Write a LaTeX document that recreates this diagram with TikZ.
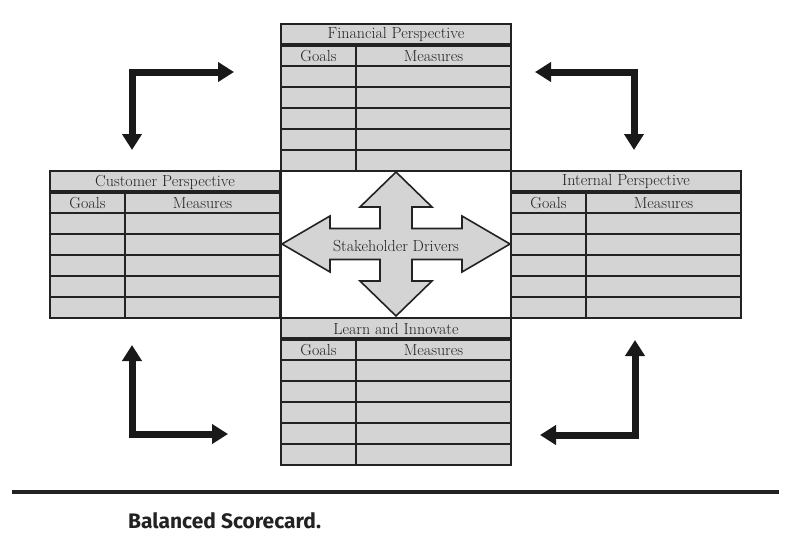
\documentclass[tikz,border=0pt]{standalone}
\usepackage{fontspec}
\newfontfamily\capfont{Fira Sans}
\usetikzlibrary{arrows.meta}

\definecolor{cellgray}{HTML}{D4D4D4}
\definecolor{inkgray}{HTML}{222222}

\begin{document}
\begin{tikzpicture}[x=1pt, y=-1pt,
    rule/.style={draw=inkgray, line width=1.6pt},
    thickrule/.style={draw=inkgray, line width=3.2pt},
    title/.style={inner sep=0pt, text=inkgray, font=\fontsize{16}{18}\selectfont},
    head/.style={inner sep=0pt, text=inkgray, font=\fontsize{16}{18}\selectfont},
    cross/.style={draw=inkgray, fill=cellgray, line width=1.6pt, line join=miter},
    turn/.style={draw=black!90, line width=7pt, line join=miter,
      {Triangle[length=16pt, width=19pt]}-{Triangle[length=16pt, width=19pt]}}]
  \useasboundingbox (0,0) rectangle (794,538);

  % the four tables
  \foreach \x/\y/\name/\title in {281/24/fin/Financial Perspective,
      50/171/cus/Customer Perspective, 511/171/int/Internal Perspective,
      281/318/lrn/Learn and Innovate} {
    \fill[cellgray] (\x,\y) rectangle ++(230,147);
    \foreach \r in {2,...,6}
      \draw[rule] (\x,\y+21*\r) -- ++(230,0);
    \draw[rule] (\x+75,\y+21) -- (\x+75,\y+147);
    \draw[thickrule] (\x,\y+21) -- ++(230,0);
    \draw[rule] (\x,\y) rectangle ++(230,147);
    \node[title] (\name) at (\x+115,\y+11) {\title};
    \node[head] (\name-g) at (\x+37.5,\y+32) {Goals};
    \node[head] (\name-m) at (\x+152.5,\y+32) {Measures};
  }

  % centre box and the cross
  \draw[rule] (281,171) rectangle (511,318);
  \begin{scope}[shift={(396,244)}]
    \draw[cross] (0,-72) -- (36,-37) -- (16,-37) -- (16,-15.5) -- (66,-15.5)
      -- (66,-28) -- (114,0) -- (66,28) -- (66,15.5) -- (16,15.5) -- (16,37)
      -- (36,37) -- (0,72) -- (-36,37) -- (-16,37) -- (-16,15.5)
      -- (-66,15.5) -- (-66,28) -- (-114,0) -- (-66,-28) -- (-66,-15.5)
      -- (-16,-15.5) -- (-16,-37) -- (-36,-37) -- cycle;
  \end{scope}
  \node[head] (drv) at (396,246) {Stakeholder Drivers};

  % corner arrows
  \coordinate (tl-a) at (234,72);  \coordinate (tl-c) at (132,72);  \coordinate (tl-b) at (132,150);
  \coordinate (tr-a) at (535,72);  \coordinate (tr-c) at (634,72);  \coordinate (tr-b) at (634,150);
  \coordinate (bl-a) at (132,345); \coordinate (bl-c) at (132,434); \coordinate (bl-b) at (228,434);
  \coordinate (br-a) at (635,340); \coordinate (br-c) at (635,435); \coordinate (br-b) at (540,435);

  \draw[turn] (tl-a) -- (tl-c) -- (tl-b);
  \draw[turn] (tr-a) -- (tr-c) -- (tr-b);
  \draw[turn] (bl-a) -- (bl-c) -- (bl-b);
  \draw[turn] (br-a) -- (br-c) -- (br-b);

  % caption
  \draw[line width=4pt, draw=inkgray] (12,492) -- (779,492);
  \node[anchor=west, inner sep=0pt, text=inkgray, font=\capfont\bfseries\fontsize{21}{24}\selectfont]
    (cap) at (128,521) {Balanced Scorecard.};
\end{tikzpicture}
\end{document}
